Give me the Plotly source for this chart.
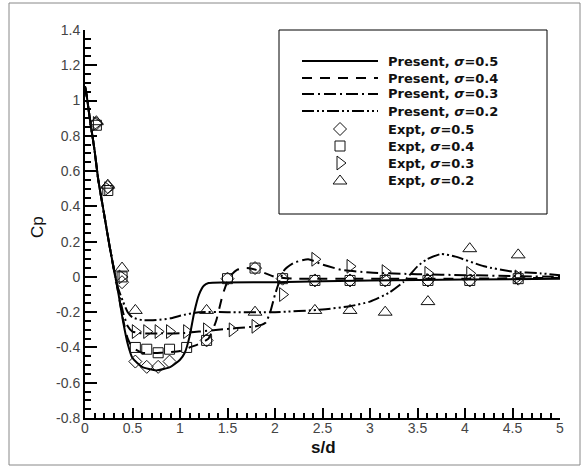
import plotly.graph_objects as go

# ---------------- data ----------------
# Present (computed) curves
x_p05 = [0, 0.02, 0.05, 0.1, 0.14, 0.2, 0.26, 0.32, 0.36, 0.4, 0.45, 0.5, 0.6, 0.75, 0.9, 1.0, 1.05, 1.1, 1.15, 1.2, 1.25, 1.3, 2.0, 3.0, 4.0, 5.0]
y_p05 = [1.08, 1.02, 0.9, 0.72, 0.55, 0.36, 0.17, 0.0, -0.12, -0.25, -0.38, -0.46, -0.51, -0.53, -0.51, -0.47, -0.43, -0.34, -0.2, -0.1, -0.05, -0.035, -0.03, -0.02, -0.015, -0.01]

x_p04 = [0, 0.02, 0.05, 0.1, 0.14, 0.2, 0.26, 0.32, 0.36, 0.4, 0.45, 0.5, 0.6, 0.8, 1.0, 1.1, 1.2, 1.3, 1.38, 1.45, 1.52, 1.6, 1.7, 1.8, 1.9, 2.0, 2.2, 3.0, 4.0, 5.0]
y_p04 = [1.08, 1.02, 0.9, 0.72, 0.55, 0.36, 0.17, 0.0, -0.12, -0.24, -0.35, -0.4, -0.43, -0.43, -0.42, -0.4, -0.38, -0.35, -0.25, -0.1, 0.0, 0.04, 0.05, 0.04, 0.02, 0.0, -0.01, -0.01, -0.01, -0.005]

x_p03 = [0, 0.02, 0.05, 0.1, 0.14, 0.2, 0.26, 0.32, 0.36, 0.4, 0.45, 0.5, 0.6, 0.8, 1.0, 1.2, 1.4, 1.6, 1.8, 1.9, 1.95, 2.0, 2.05, 2.1, 2.2, 2.35, 2.5, 2.7, 3.0, 3.5, 4.0, 4.5, 5.0]
y_p03 = [1.08, 1.02, 0.9, 0.72, 0.55, 0.36, 0.17, 0.0, -0.1, -0.2, -0.28, -0.31, -0.32, -0.32, -0.32, -0.31, -0.3, -0.29, -0.28, -0.26, -0.2, -0.1, -0.02, 0.04, 0.08, 0.1, 0.07, 0.04, 0.025, 0.015, 0.01, 0.005, 0.0]

x_p02 = [0, 0.02, 0.05, 0.1, 0.14, 0.2, 0.26, 0.3, 0.34, 0.4, 0.45, 0.5, 0.6, 0.75, 0.9, 1.0, 1.2, 1.5, 2.0, 2.5, 2.8, 3.0, 3.2, 3.35, 3.5, 3.6, 3.75, 3.9, 4.2, 4.5, 4.8, 5.0]
y_p02 = [1.08, 1.02, 0.9, 0.72, 0.55, 0.36, 0.17, 0.05, -0.05, -0.14, -0.2, -0.23, -0.245, -0.245, -0.235, -0.22, -0.2, -0.2, -0.2, -0.185, -0.165, -0.14, -0.09, -0.03, 0.06, 0.1, 0.13, 0.115, 0.06, 0.03, 0.02, 0.01]

# Experimental points
x_e05 = [0.12, 0.24, 0.39, 0.53, 0.65, 0.77, 0.89, 1.28, 1.5, 1.79, 2.08, 2.42, 2.79, 3.16, 3.61, 4.05, 4.56]
y_e05 = [0.87, 0.51, -0.03, -0.48, -0.51, -0.51, -0.48, -0.36, -0.01, 0.05, -0.01, -0.02, -0.02, -0.02, -0.02, -0.02, -0.01]

x_e04 = [0.12, 0.24, 0.39, 0.53, 0.65, 0.77, 0.89, 1.07, 1.28, 1.5, 1.79, 2.08, 2.42, 2.79, 3.16, 3.61, 4.05, 4.56]
y_e04 = [0.86, 0.49, 0.0, -0.4, -0.41, -0.43, -0.41, -0.4, -0.36, -0.01, 0.05, -0.01, -0.02, -0.02, -0.02, -0.02, -0.02, -0.01]

x_e03 = [0.12, 0.24, 0.39, 0.53, 0.65, 0.77, 0.89, 1.07, 1.28, 1.55, 1.79, 2.08, 2.42, 2.79, 3.16, 3.61, 4.05, 4.56]
y_e03 = [0.87, 0.5, 0.0, -0.31, -0.31, -0.31, -0.31, -0.31, -0.3, -0.3, -0.28, -0.1, 0.1, 0.06, 0.03, 0.02, 0.02, 0.0]

x_e02 = [0.12, 0.24, 0.39, 0.53, 1.28, 1.79, 2.42, 2.79, 3.16, 3.61, 4.05, 4.56]
y_e02 = [0.88, 0.52, 0.05, -0.19, -0.19, -0.2, -0.19, -0.19, -0.2, -0.14, 0.16, 0.125]

# Tick labels
y_tick_vals = [-0.8, -0.6, -0.4, -0.2, 0, 0.2, 0.4, 0.6, 0.8, 1, 1.2, 1.4]
y_tick_text = ["-0.8", "-0.6", "-0.4", "-0.2", "0", "0.2", "0.4", "0.6", "0.8", "1", "1.2", "1.4"]
x_tick_vals = [0, 0.5, 1, 1.5, 2, 2.5, 3, 3.5, 4, 4.5, 5]
x_tick_text = ["0", "0.5", "1", "1.5", "2", "2.5", "3", "3.5", "4", "4.5", "5"]

legend_labels = ["Present, <i>σ</i>=0.5", "Present, <i>σ</i>=0.4", "Present, <i>σ</i>=0.3", "Present, <i>σ</i>=0.2",
                 "Expt, <i>σ</i>=0.5", "Expt, <i>σ</i>=0.4", "Expt, <i>σ</i>=0.3", "Expt, <i>σ</i>=0.2"]

# ---------------- styles ----------------
dashes = ["solid", "10px,8px", "12px,4px,2px,4px", "12px,3px,2px,3px,2px,3px"]
symbols = ["diamond-open", "square-open", "triangle-right-open", "triangle-up-open"]
sizes = [10, 10, 12, 12]

W, H = 581, 466
L, R, T, B = 85, 21, 30, 48
pw, ph = W - L - R, H - T - B


def px(xp):
    return (xp - L) / pw


def py(yp):
    return (H - B - yp) / ph


fig = go.Figure()

curves = [(x_p05, y_p05), (x_p04, y_p04), (x_p03, y_p03), (x_p02, y_p02)]
for (xs, ys), d in zip(curves, dashes):
    fig.add_trace(go.Scatter(x=xs, y=ys, mode="lines", showlegend=False,
                             line=dict(color="black", width=2, dash=d, shape="spline", smoothing=0.5)))

expts = [(x_e05, y_e05), (x_e04, y_e04), (x_e03, y_e03), (x_e02, y_e02)]
for (xs, ys), s, sz in zip(expts, symbols, sizes):
    fig.add_trace(go.Scatter(x=xs, y=ys, mode="markers", showlegend=False, cliponaxis=False,
                             marker=dict(symbol=s, size=sz, color="#111", line=dict(width=1, color="#111"))))

# ---------------- custom legend ----------------
row_y = [61, 78, 94, 111, 129, 146, 163, 181]
shapes = []
shapes.append(dict(type="rect", xref="paper", yref="paper", x0=px(9), x1=px(580), y0=py(465), y1=py(3),
                   line=dict(color="#888", width=1), layer="below"))
shapes.append(dict(type="rect", xref="paper", yref="paper", x0=px(279), x1=px(547), y0=py(214), y1=py(30),
                   line=dict(color="black", width=1), fillcolor="rgba(0,0,0,0)", layer="above"))
for i in range(4):
    shapes.append(dict(type="line", xref="paper", yref="paper", x0=px(302), x1=px(378),
                       y0=py(row_y[i]), y1=py(row_y[i]), line=dict(color="black", width=2, dash=dashes[i])))

for i in range(4):
    fig.add_trace(go.Scatter(x=[px(340)], y=[py(row_y[4 + i])], xaxis="x2", yaxis="y2", mode="markers",
                             showlegend=False, hoverinfo="skip", cliponaxis=False,
                             marker=dict(symbol=symbols[i], size=sizes[i], color="#111", line=dict(width=1, color="#111"))))

annotations = []
for i, lab in enumerate(legend_labels):
    annotations.append(dict(text=lab, xref="paper", yref="paper", x=px(386), y=py(row_y[i]), xanchor="left",
                            yanchor="middle", showarrow=False,
                            font=dict(family="DejaVu Sans", size=13, color="#111", weight="bold")))

annotations.append(dict(text="Cp", xref="paper", yref="paper", x=px(37), y=py(227), textangle=-90,
                        showarrow=False, xanchor="center", yanchor="middle",
                        font=dict(family="Liberation Sans", size=17, color="#111")))
annotations.append(dict(text="<b>s/d</b>", xref="paper", yref="paper", x=px(323), y=py(447),
                        showarrow=False, xanchor="center", yanchor="middle",
                        font=dict(family="Liberation Sans", size=17, color="#111")))

fig.update_layout(
    width=W, height=H,
    margin=dict(l=L, r=R, t=T, b=B),
    paper_bgcolor="white", plot_bgcolor="white",
    showlegend=False,
    shapes=shapes, annotations=annotations,
    xaxis=dict(range=[0, 5], tickvals=x_tick_vals, ticktext=x_tick_text, ticks="inside", ticklen=10, tickwidth=2,
               tickcolor="black", showline=True, linecolor="black", linewidth=2, showgrid=False, zeroline=False,
               ticklabelstandoff=-4,
               tickfont=dict(family="Liberation Sans", size=14, color="#444"),
               minor=dict(dtick=0.1, ticks="inside", ticklen=5, tickwidth=1.5, tickcolor="black", showgrid=False)),
    yaxis=dict(range=[-0.8, 1.4], tickvals=y_tick_vals, ticktext=y_tick_text, ticks="inside", ticklen=12, tickwidth=2,
               tickcolor="black", showline=True, linecolor="black", linewidth=2, showgrid=False, zeroline=False,
               tickfont=dict(family="Liberation Sans", size=14, color="#444"),
               minor=dict(dtick=0.05, tick0=0, ticks="inside", ticklen=6, tickwidth=1.5, tickcolor="black", showgrid=False)),
    xaxis2=dict(overlaying="x", range=[0, 1], visible=False),
    yaxis2=dict(overlaying="y", range=[0, 1], visible=False),
)

fig.write_html("out.html")
